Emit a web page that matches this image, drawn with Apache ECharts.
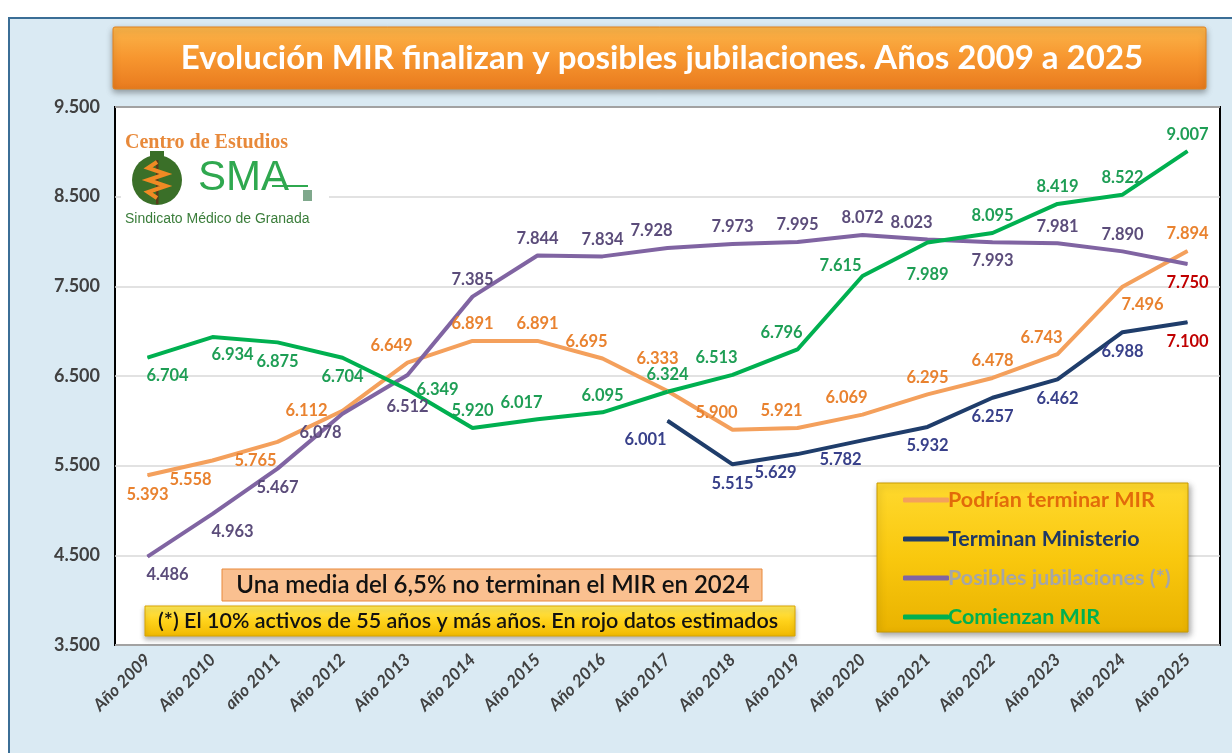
<!DOCTYPE html>
<html>
<head>
<meta charset="utf-8">
<title>Evolución MIR finalizan y posibles jubilaciones</title>
<script src="https://cdn.jsdelivr.net/npm/echarts@6/dist/echarts.min.js"></script>
<style>
html,body{margin:0;padding:0;background:#fff}
#main{width:1232px;height:753px}
</style>
</head>
<body>
<div id="main"></div>
<script>
// datos
const years = ['Año 2009','Año 2010','año 2011','Año 2012','Año 2013','Año 2014','Año 2015','Año 2016','Año 2017',
  'Año 2018','Año 2019','Año 2020','Año 2021','Año 2022','Año 2023','Año 2024','Año 2025'];
const podrianTerminar = [5393,5558,5765,6112,6649,6891,6891,6695,6333,5900,5921,6069,6295,6478,6743,7496,7894];
const terminanMinisterio = [null,null,null,null,null,null,null,null,6001,5515,5629,5782,5932,6257,6462,6988,7100];
const jubilaciones = [4486,4963,5467,6078,6512,7385,7844,7834,7928,7973,7995,8072,8023,7993,7981,7890,7750];
const comienzanMir = [6704,6934,6875,6704,6349,5920,6017,6095,6324,6513,6796,7615,7989,8095,8419,8522,9007];
const yMin = 3500, yMax = 9500, yStep = 1000;
// datos estimados (en rojo)
const estimadoMinisterio = [16];
const estimadoJubilaciones = [16];

// colocacion de etiquetas
const nudge = {T:[0,-17],B:[0,19],TL:[-16,-17],T2:[-10,-32],BL:[-22,19],BR:[20,18],B2:[0,32],L:[-36,0],LT:[-22,-10],R:[30,0]};
const posOrange = ['B','BL','BL','L','TL','T','T','TL','T2','TL','TL','TL','T','T','TL','BR','T'];
const posNavy   = ['','','','','','','','','BL','B','BL','BL','B','B','B','B','B'];
const posPurple = ['BR','BR','B','BL','B2','T','T','T','TL','T','T','T','TL','B','T','T','B'];
const posGreen  = ['BR','BR','B','B','R','T','TL','T','T','TL','TL','LT','B2','T','T','T','T'];

const fmt = v => (v/1000).toFixed(3);
const FONT = 'Lato';

function makeSeries(name, values, pos, lineColor, labelColor, estimated){
  return {
    name: name,
    type: 'line',
    data: values.map((v,i) => v == null ? null : {
      value: v,
      label: {offset: nudge[pos[i]], color: estimated.indexOf(i) >= 0 ? '#C00000' : labelColor}
    }),
    symbol: 'circle',
    symbolSize: 1,
    lineStyle: {width: 4, color: lineColor},
    itemStyle: {color: lineColor},
    label: {
      show: true, position: 'inside', fontFamily: FONT, fontWeight: 'bold', fontSize: 16.5,
      formatter: p => fmt(p.value)
    },
    emphasis: {disabled: true}
  };
}

const chart = echarts.init(document.getElementById('main'));

const option = {
  backgroundColor: '#fff',
  animation: false,
  grid: {left: 115, right: 12, top: 107, bottom: 108, show: true, backgroundColor: '#fff', borderColor: '#000', borderWidth: 2},
  xAxis: {
    type: 'category', data: years, boundaryGap: true,
    axisLine: {show: false}, axisTick: {show: false},
    axisLabel: {rotate: 45, interval: 0, margin: 12, fontFamily: FONT, fontStyle: 'italic', fontWeight: 'bold', fontSize: 17, color: '#404040'}
  },
  yAxis: {
    type: 'value', min: yMin, max: yMax, interval: yStep,
    axisLine: {show: false}, axisTick: {show: false},
    splitLine: {lineStyle: {color: '#D9D9D9', width: 1.5}},
    axisLabel: {margin: 15, fontFamily: FONT, fontWeight: 'bold', fontSize: 18, color: '#404040', formatter: v => fmt(v)}
  },
  legend: {
    orient: 'vertical', left: 898, top: 484, itemGap: 17, z: 20,
    icon: 'roundRect', itemWidth: 46, itemHeight: 5,
    textStyle: {fontFamily: FONT, fontWeight: 'bold', fontSize: 21.5, padding: [0,0,0,-6]},
    data: [
      {name: 'Podrían terminar MIR', textStyle: {color: '#E26B0A'}},
      {name: 'Terminan Ministerio', textStyle: {color: '#1F3864'}},
      {name: 'Posibles jubilaciones (*)', textStyle: {color: '#A6A6A6'}},
      {name: 'Comienzan MIR', textStyle: {color: '#00B050'}}
    ]
  },
  series: [
    makeSeries('Podrían terminar MIR', podrianTerminar, posOrange, '#F4A05C', '#E9822F', []),
    makeSeries('Terminan Ministerio', terminanMinisterio, posNavy, '#1F3D6B', '#38408A', estimadoMinisterio),
    makeSeries('Posibles jubilaciones (*)', jubilaciones, posPurple, '#8064A2', '#5B4C7A', estimadoJubilaciones),
    makeSeries('Comienzan MIR', comienzanMir, posGreen, '#00B050', '#1E9E55', [])
  ],
  graphic: [
    // marco exterior
    {type: 'rect', z: -5, shape: {x: 9, y: 18, width: 1240, height: 760},
      style: {fill: '#DAEAF3', stroke: '#3B6E96', lineWidth: 2}},
    // titulo
    {type: 'rect', z: 10, shape: {x: 113, y: 27, width: 1093, height: 62, r: 2},
      style: {
        fill: new echarts.graphic.LinearGradient(0,0,0,1,[{offset:0,color:'#FBB54A'},{offset:0.5,color:'#F7962F'},{offset:1,color:'#E87A1E'}]),
        stroke: '#E0821F', lineWidth: 1, shadowBlur: 6, shadowOffsetY: 3, shadowColor: 'rgba(0,0,0,0.35)'
      }},
    {type: 'text', z: 11, x: 662, y: 58,
      style: {text: 'Evolución MIR finalizan y posibles jubilaciones. Años 2009 a 2025', fill: '#fff',
        font: 'bold 33px Lato', align: 'center', verticalAlign: 'middle'}},
    // logo
    {type: 'rect', z: 5, shape: {x: 121, y: 128, width: 208, height: 104}, style: {fill: '#fff'}},
    {type: 'text', z: 6, x: 125, y: 143,
      style: {text: 'Centro de Estudios', fill: '#E8893A', font: 'bold 20px "Liberation Serif"', verticalAlign: 'middle'}},
    {type: 'circle', z: 6, shape: {cx: 157, cy: 180, r: 25}, style: {fill: '#3A6F28'}},
    {type: 'rect', z: 6, shape: {x: 150, y: 151, width: 14, height: 8}, style: {fill: '#3A6F28'}},
    {type: 'rect', z: 7, shape: {x: 156, y: 160, width: 2.5, height: 44}, style: {fill: '#5A3A1A'}},
    {type: 'polyline', z: 7, shape: {points: [[157,162],[148,168],[166,174],[148,180],[166,186],[148,192],[157,198]]},
      style: {stroke: '#F08A24', lineWidth: 4, fill: null}},
    {type: 'text', z: 6, x: 198, y: 178,
      style: {text: 'SMA', fill: '#2FA84F', font: '42px "Liberation Sans"', verticalAlign: 'middle'}},
    {type: 'line', z: 6, shape: {x1: 272, y1: 186, x2: 308, y2: 186}, style: {stroke: '#2FA84F', lineWidth: 2}},
    {type: 'rect', z: 6, shape: {x: 303, y: 190, width: 9, height: 11}, style: {fill: '#7FA88C'}},
    {type: 'text', z: 6, x: 125, y: 219,
      style: {text: 'Sindicato Médico de Granada', fill: '#3A7D3A', font: '14px "Liberation Sans"', verticalAlign: 'middle'}},
    // notas
    {type: 'rect', z: 10, shape: {x: 222, y: 569, width: 540, height: 32},
      style: {fill: '#FAC090', stroke: '#E8893A', lineWidth: 1}},
    {type: 'text', z: 11, x: 493, y: 585,
      style: {text: 'Una media del 6,5% no terminan el MIR en 2024', fill: '#111', font: '600 24px Lato', align: 'center', verticalAlign: 'middle'}},
    {type: 'rect', z: 10, shape: {x: 145, y: 606, width: 650, height: 30},
      style: {
        fill: new echarts.graphic.LinearGradient(0,0,0,1,[{offset:0,color:'#FFEA5C'},{offset:0.5,color:'#FFD21A'},{offset:1,color:'#F0B800'}]),
        stroke: '#D9A400', lineWidth: 1, shadowBlur: 5, shadowOffsetY: 3, shadowColor: 'rgba(0,0,0,0.3)'
      }},
    {type: 'text', z: 11, x: 468, y: 621,
      style: {text: '(*) El 10% activos de 55 años y más años. En rojo datos estimados', fill: '#111', font: '600 21.5px Lato', align: 'center', verticalAlign: 'middle'}},
    // caja leyenda
    {type: 'rect', z: 10, shape: {x: 877, y: 483, width: 311, height: 149},
      style: {
        fill: new echarts.graphic.LinearGradient(0,0,0,1,[{offset:0,color:'#FFD92E'},{offset:0.5,color:'#F9C80E'},{offset:1,color:'#E9B200'}]),
        stroke: '#C99A00', lineWidth: 1, shadowBlur: 6, shadowOffsetX: 2, shadowOffsetY: 3, shadowColor: 'rgba(0,0,0,0.35)'
      }}
  ]
};

chart.setOption(option);
</script>
</body>
</html>
